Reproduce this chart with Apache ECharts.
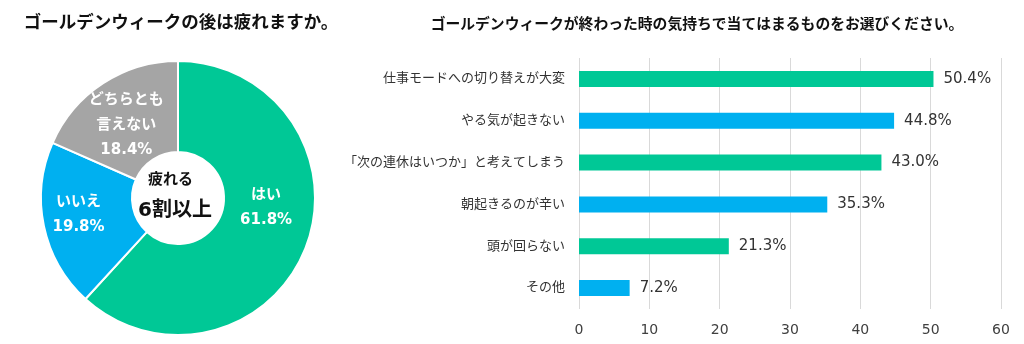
<!DOCTYPE html>
<html>
<head>
<meta charset="utf-8">
<script src="https://cdn.jsdelivr.net/npm/echarts@6/dist/echarts.min.js"></script>
<style>
html,body{margin:0;padding:0;background:#fff;}
#c{width:1024px;height:344px;}
</style>
</head>
<body>
<div id="c"></div>
<script>
// ---- data ----
var pieNames = ['はい', 'いいえ', 'どちらとも\n言えない'];
var pieValues = [61.8, 19.8, 18.4];
var pieColors = ['#00C896', '#00B0F0', '#A5A5A5'];

var barCategories = ['仕事モードへの切り替えが大変', 'やる気が起きない', '「次の連休はいつか」と考えてしまう', '朝起きるのが辛い', '頭が回らない', 'その他'];
var barValues = [50.4, 44.8, 43.0, 35.3, 21.3, 7.2];
var barColors = ['#00C896', '#00B0F0'];

var xTicks = [0, 10, 20, 30, 40, 50, 60];

var titleLeft = 'ゴールデンウィークの後は疲れますか。';
var titleRight = 'ゴールデンウィークが終わった時の気持ちで当てはまるものをお選びください。';
var centerLine1 = '疲れる';
var centerLine2 = '6割以上';

var JP = "'DejaVu Sans', 'Noto Sans CJK JP', sans-serif";

var chart = echarts.init(document.getElementById('c'), null, {renderer: 'canvas'});
var pieLabelShift = [[0, -25], [-7, -3], [0, 6]];

chart.setOption({
  backgroundColor: '#fff',
  animation: false,
  title: [
    {text: titleLeft, left: 176, top: 10, textAlign: 'center',
     textStyle: {fontFamily: JP, fontSize: 17.5, fontWeight: 'bold', color: '#111'}},
    {text: titleRight, left: 692, top: 13, textAlign: 'center',
     textStyle: {fontFamily: JP, fontSize: 14.8, fontWeight: 'bold', color: '#111'}}
  ],
  graphic: [
    {type: 'text', left: 178 - 30, top: 173, style: {
      text: centerLine1, width: 60, align: 'center',
      font: "bold 15px 'DejaVu Sans', 'Noto Sans CJK JP', sans-serif", fill: '#111'}, silent: true},
    {type: 'text', left: 178 - 40, top: 201, style: {
      text: centerLine2, width: 80, align: 'center',
      font: "bold 20px 'DejaVu Sans', 'Noto Sans CJK JP', sans-serif", fill: '#111'}, silent: true}
  ],
  grid: {left: 579, right: 23, top: 58, bottom: 35, containLabel: false},
  xAxis: {
    type: 'value', min: xTicks[0], max: xTicks[xTicks.length - 1], interval: 10,
    axisLine: {show: false}, axisTick: {show: false},
    axisLabel: {fontFamily: JP, fontSize: 14, color: '#404040', margin: 14},
    splitLine: {show: true, lineStyle: {color: '#d9d9d9', width: 1}}
  },
  yAxis: {
    type: 'category', data: barCategories, inverse: true,
    axisLine: {show: false}, axisTick: {show: false},
    axisLabel: {fontFamily: JP, fontSize: 13, color: '#333', margin: 14}
  },
  series: [
    {
      type: 'bar', data: barValues, barWidth: 16,
      itemStyle: {color: function (p) { return barColors[p.dataIndex % 2]; }},
      label: {show: true, position: 'right', distance: 10,
        fontFamily: JP, fontSize: 15, color: '#333',
        formatter: function (p) { return p.value.toFixed(1) + '%'; }}
    },
    {
      type: 'pie', center: [178, 198], radius: [46, 137], startAngle: 90, clockwise: true,
      avoidLabelOverlap: false,
      data: pieNames.map(function (n, i) {
        return {name: n, value: pieValues[i], itemStyle: {color: pieColors[i]}};
      }),
      itemStyle: {borderColor: '#fff', borderWidth: 2},
      label: {show: true, position: 'inside', color: '#fff', fontFamily: JP,
        fontSize: 15, fontWeight: 'bold', lineHeight: 25,
        formatter: function (p) { return p.name + '\n' + p.value.toFixed(1) + '%'; }},
      labelLine: {show: false},
      labelLayout: function (p) {
        var s = pieLabelShift[p.dataIndex];
        return {dx: s[0], dy: s[1]};
      },
      emphasis: {disabled: true}
    }
  ]
});
</script>
</body>
</html>
